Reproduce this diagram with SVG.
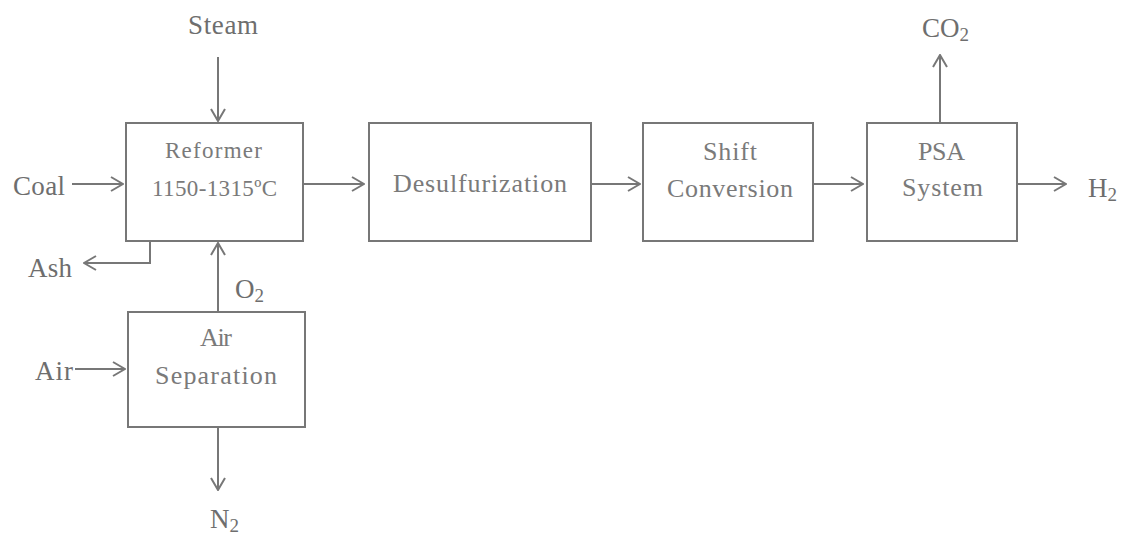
<svg xmlns="http://www.w3.org/2000/svg" width="1122" height="536" viewBox="0 0 1122 536">
<defs>
<style>
.box{fill:#fff;stroke:#777;stroke-width:2}
.ln{fill:none;stroke:#777;stroke-width:2}
.t{font-family:"Liberation Serif","DejaVu Serif",serif;fill:#6e6e6e;font-size:27px}
.ti{font-family:"Liberation Serif","DejaVu Serif",serif;fill:#7a7a7a;font-size:26px}
.ts{font-family:"Liberation Serif","DejaVu Serif",serif;fill:#7a7a7a;font-size:23px}
</style>
<marker id="ah" viewBox="0 0 14 16" refX="13" refY="8" markerWidth="14" markerHeight="16" markerUnits="userSpaceOnUse" orient="auto">
<polyline points="1,1 13,8 1,15" fill="none" stroke="#777" stroke-width="2"/>
</marker>
</defs>
<rect width="1122" height="536" fill="#fff"/>
<g id="connectors">
<line class="ln" x1="218" y1="57" x2="218" y2="121" marker-end="url(#ah)"/>
<line class="ln" x1="72" y1="184" x2="123" y2="184" marker-end="url(#ah)"/>
<line class="ln" x1="304" y1="184" x2="364" y2="184" marker-end="url(#ah)"/>
<polyline class="ln" points="150,242 150,263 84,263" marker-end="url(#ah)"/>
<line class="ln" x1="218" y1="311" x2="218" y2="243" marker-end="url(#ah)"/>
<line class="ln" x1="75" y1="369" x2="125" y2="369" marker-end="url(#ah)"/>
<line class="ln" x1="218" y1="428" x2="218" y2="490" marker-end="url(#ah)"/>
<line class="ln" x1="592" y1="184" x2="640" y2="184" marker-end="url(#ah)"/>
<line class="ln" x1="814" y1="184" x2="863" y2="184" marker-end="url(#ah)"/>
<line class="ln" x1="940" y1="122" x2="940" y2="55" marker-end="url(#ah)"/>
<line class="ln" x1="1018" y1="184" x2="1066" y2="184" marker-end="url(#ah)"/>
</g>
<g id="reformer">
<rect class="box" x="126" y="123" width="177" height="118"/>
<text class="ts" x="165" y="158" textLength="97" lengthAdjust="spacing">Reformer</text>
<text class="ts" x="152" y="196" textLength="125" lengthAdjust="spacing">1150-1315ºC</text>
</g>
<g id="desulfurization">
<rect class="box" x="369" y="123" width="222" height="118"/>
<text class="ti" x="393" y="192" textLength="174" lengthAdjust="spacing">Desulfurization</text>
</g>
<g id="shift">
<rect class="box" x="643" y="123" width="170" height="118"/>
<text class="ti" x="703" y="160" textLength="54" lengthAdjust="spacing">Shift</text>
<text class="ti" x="667" y="197" textLength="126" lengthAdjust="spacing">Conversion</text>
</g>
<g id="psa">
<rect class="box" x="867" y="123" width="150" height="118"/>
<text class="ti" x="918" y="160" textLength="47" lengthAdjust="spacing">PSA</text>
<text class="ti" x="902" y="196" textLength="81" lengthAdjust="spacing">System</text>
</g>
<g id="airsep">
<rect class="box" x="128" y="312" width="177" height="115"/>
<text class="ti" x="200" y="346" textLength="32" lengthAdjust="spacing">Air</text>
<text class="ti" x="155" y="384" textLength="122" lengthAdjust="spacing">Separation</text>
</g>
<g id="labels">
<text class="t" x="188" y="34" textLength="70" lengthAdjust="spacing">Steam</text>
<text class="t" x="13" y="195" textLength="52" lengthAdjust="spacing">Coal</text>
<text class="t" x="28" y="277" textLength="44" lengthAdjust="spacing">Ash</text>
<text class="t" x="235" y="298">O<tspan font-size="19" dy="4">2</tspan></text>
<text class="t" x="35" y="380" textLength="38" lengthAdjust="spacing">Air</text>
<text class="t" x="210" y="528">N<tspan font-size="19" dy="4">2</tspan></text>
<text class="t" x="922" y="37">CO<tspan font-size="19" dy="4">2</tspan></text>
<text class="t" x="1088" y="197">H<tspan font-size="19" dy="4">2</tspan></text>
</g>
</svg>
